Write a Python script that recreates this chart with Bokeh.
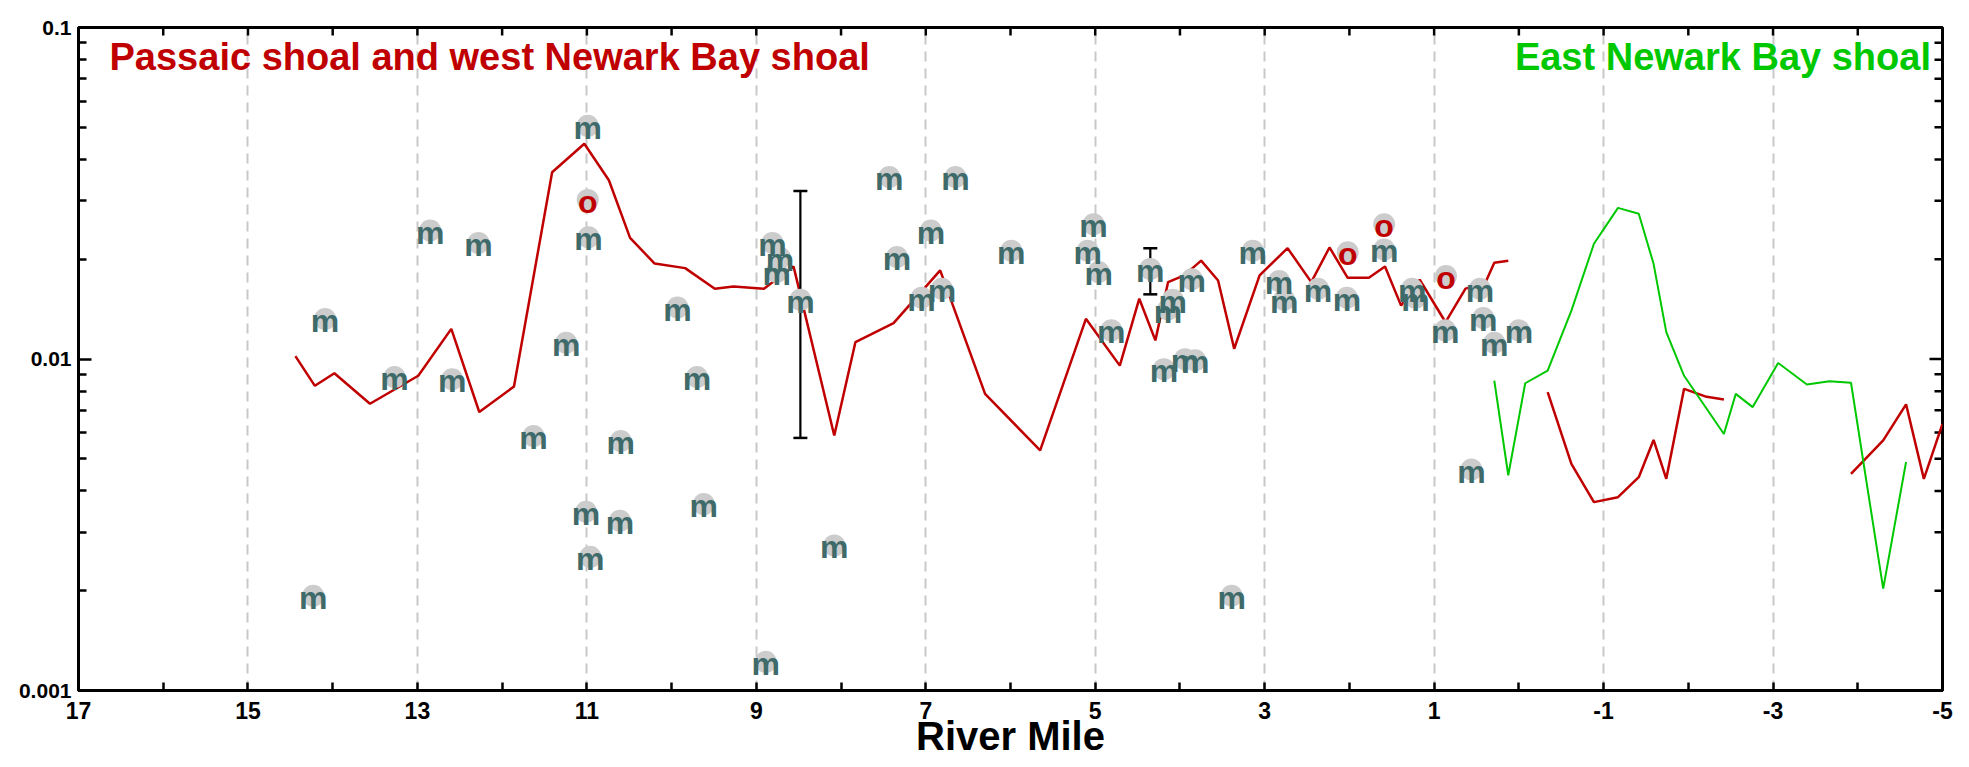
import math
from bokeh.plotting import figure
from bokeh.models import Range1d, FixedTicker, Label, CustomJSTickFormatter
from bokeh.core.properties import value
from bokeh.embed import file_html
from bokeh.resources import INLINE

# ---------------- data ----------------
x_start, x_end = 17, -5
y_bottom, y_top = 0.001, 0.1

# Passaic shoal / west Newark Bay shoal model line (main reach)
red_main_x = [14.44, 14.21, 13.98, 13.56, 12.99, 12.60, 12.27, 11.86, 11.41, 11.03,
              10.74, 10.49, 10.20, 9.84, 9.49, 9.27, 8.91, 8.84, 8.56, 8.08,
              7.83, 7.38, 6.83, 6.30, 5.65, 5.11, 4.71, 4.48, 4.29, 4.14,
              3.95, 3.75, 3.55, 3.36, 3.06, 2.73, 2.45, 2.235, 2.02, 1.77,
              1.58, 1.39, 1.17, 0.865, 0.63, 0.40, 0.29, 0.125]
red_main_y = [0.0102, 0.0083, 0.00906, 0.00733, 0.0089, 0.01233, 0.00692, 0.00826, 0.0366, 0.0446,
              0.0346, 0.0232, 0.0194, 0.0188, 0.0163, 0.01655, 0.0163, 0.0168, 0.0190, 0.00588,
              0.01125, 0.01283, 0.0185, 0.00785, 0.0053, 0.01322, 0.00955, 0.0152, 0.01138, 0.01706,
              0.01787, 0.0198, 0.01725, 0.01074, 0.01787, 0.0216, 0.01706, 0.0217, 0.01758, 0.01758,
              0.0190, 0.01449, 0.01734, 0.01291, 0.0163, 0.0169, 0.0195, 0.0198]

# west shoal line segments east of RM 0
red_seg2_x = [-0.34, -0.62, -0.886, -1.17, -1.415, -1.59, -1.74, -1.95, -2.20, -2.42]
red_seg2_y = [0.00794, 0.00483, 0.0037, 0.00383, 0.0044, 0.0057, 0.00435, 0.00813, 0.00771, 0.00755]
red_seg3_x = [-3.92, -4.30, -4.57, -4.78, -5.0]
red_seg3_y = [0.0045, 0.00568, 0.0073, 0.00435, 0.00637]

# East Newark Bay shoal model line
green_x = [0.29, 0.125, -0.075, -0.34, -0.62, -0.886, -1.17, -1.415, -1.59, -1.74,
           -1.95, -2.42, -2.56, -2.76, -3.06, -3.40, -3.665, -3.92, -4.30, -4.57]
green_y = [0.0086, 0.00446, 0.00845, 0.00923, 0.0140, 0.02226, 0.02857, 0.02742, 0.01937, 0.01205,
           0.0089, 0.00594, 0.00785, 0.00716, 0.00973, 0.00838, 0.00857, 0.00848, 0.00203, 0.00489]

# "m" measurements
m_x = [10.99, 10.98, 12.85, 12.28, 14.09, 9.93, 11.245, 13.27, 12.59, 9.70,
       11.63, 10.60, 11.01, 10.61, 10.96, 14.23, 9.62, 8.08, 8.89, 3.39,
       7.43, 6.65, 6.94, 7.34, 5.99, 5.02, 5.09, 4.96, 4.35, 3.86,
       4.085, 4.14, 4.81, 4.19, 3.94, 3.82, 3.14, 2.83, 2.77, 2.37,
       2.03, 8.81, 8.72, 8.76, 8.48, 7.05, 6.81, 1.59, 1.26, 1.22,
       0.87, 0.46, 0.42, 0.29, 0.0, 0.56]
m_y = [0.0505, 0.0233, 0.0244, 0.0224, 0.0132, 0.0143, 0.0112, 0.00883, 0.00869, 0.00883,
       0.00586, 0.00566, 0.00346, 0.00325, 0.00253, 0.00193, 0.00365, 0.00274, 0.00122, 0.00193,
       0.0354, 0.0354, 0.0244, 0.0203, 0.0212, 0.0255, 0.0212, 0.0183, 0.0187, 0.0174,
       0.0151, 0.0141, 0.0122, 0.00932, 0.00999, 0.00992, 0.0212, 0.0172, 0.0151, 0.0163,
       0.0153, 0.0224, 0.0202, 0.0183, 0.0151, 0.0153, 0.0163, 0.0214, 0.0163, 0.0153,
       0.0122, 0.0163, 0.0133, 0.0112, 0.0122, 0.00464]

# "o" measurements
o_x = [10.99, 2.02, 1.59, 0.86]
o_y = [0.0302, 0.0210, 0.0255, 0.0178]

# error bars
err_x = [8.48, 4.35]
err_lo = [0.00578, 0.01567]
err_hi = [0.0321, 0.0216]

x_labeled_ticks = list(range(-5, 18, 2))
x_unlabeled_ticks = list(range(-4, 17, 2))
grid_x = [15, 13, 11, 9, 7, 5, 3, 1, -1, -3]
y_major = [0.001, 0.01, 0.1]
y_minor = [k * 10.0 ** e for e in (-3, -2) for k in range(2, 10)]

title_west = "Passaic shoal and west Newark Bay shoal"
title_east = "East Newark Bay shoal"
x_title = "River Mile"

# ---------------- figure ----------------
FONT = "Liberation Sans"
RED = "#c00000"
GREEN = "#00c800"
TEAL = "#3e6a6a"

p = figure(width=1969, height=767, output_backend="svg", toolbar_location=None,
           x_range=Range1d(x_start, x_end), y_range=Range1d(y_bottom, y_top), y_axis_type="log",
           min_border_left=78, min_border_right=27, min_border_top=27, min_border_bottom=77)
p.outline_line_color = "black"
p.outline_line_width = 3
p.background_fill_color = "white"
p.border_fill_color = "white"

# bottom axis
bx = p.xaxis[0]
bx.ticker = FixedTicker(ticks=x_labeled_ticks, minor_ticks=x_unlabeled_ticks)
bx.formatter = CustomJSTickFormatter(code="return tick.toString();")
bx.axis_line_width = 3
bx.major_tick_line_width = 2.5
bx.minor_tick_line_width = 2.5
bx.major_tick_in = 8
bx.major_tick_out = 0
bx.minor_tick_in = 8
bx.minor_tick_out = 0
bx.major_label_text_font = FONT
bx.major_label_text_font_style = "bold"
bx.major_label_text_font_size = "23px"
bx.major_label_text_color = "black"
bx.major_label_standoff = 11
bx.axis_label = x_title
bx.axis_label_text_font = FONT
bx.axis_label_text_font_style = "bold"
bx.axis_label_text_font_size = "40px"
bx.axis_label_text_color = "black"
bx.axis_label_standoff = -8

# left axis
ly = p.yaxis[0]
ly.ticker = FixedTicker(ticks=y_major, minor_ticks=y_minor)
ly.formatter = CustomJSTickFormatter(code="return tick.toString();")
ly.axis_line_width = 3
ly.major_tick_line_width = 2.5
ly.minor_tick_line_width = 2.5
ly.major_tick_in = 13
ly.major_tick_out = 0
ly.minor_tick_in = 8
ly.minor_tick_out = 0
ly.major_label_text_font = FONT
ly.major_label_text_font_style = "bold"
ly.major_label_text_font_size = "21px"
ly.major_label_text_color = "black"
ly.major_label_standoff = 7

# grid
p.ygrid.grid_line_color = None
p.xgrid.ticker = FixedTicker(ticks=grid_x)
p.xgrid.grid_line_color = "#c8c8c8"
p.xgrid.grid_line_width = 2
p.xgrid.grid_line_dash = "10 7"

# inward ticks on the top and right frame edges (half of each dash is clipped by the frame)
all_x_ticks = x_labeled_ticks + x_unlabeled_ticks
p.scatter(all_x_ticks, [y_top] * len(all_x_ticks), marker="dash", angle=math.pi / 2,
          size=16, line_color="black", line_width=2.5)
p.scatter([x_end] * len(y_minor), y_minor, marker="dash", size=16,
          line_color="black", line_width=2.5)
p.scatter([x_end] * len(y_major), y_major, marker="dash", size=26,
          line_color="black", line_width=2.5)

# lines
p.line(red_main_x, red_main_y, line_color=RED, line_width=2.5)
p.line(red_seg2_x, red_seg2_y, line_color=RED, line_width=2.5)
p.line(red_seg3_x, red_seg3_y, line_color=RED, line_width=2.5)
p.line(green_x, green_y, line_color=GREEN, line_width=2)

# error bars
p.segment(x0=err_x, y0=err_lo, x1=err_x, y1=err_hi, line_color="black", line_width=2.2)
p.scatter(err_x + err_x, err_lo + err_hi, marker="dash", size=14, line_color="black", line_width=2.5)

# markers: grey disc with letter on top
p.scatter(m_x + o_x, m_y + o_y, marker="circle", size=22, fill_color="#cccccc", line_color=None)
p.text(m_x, m_y, text=["m"] * len(m_x), text_font=value(FONT), text_font_style="bold",
       text_font_size="32px", text_color=TEAL, text_align="center", text_baseline="middle",
       y_offset=2)
p.text(o_x, o_y, text=["o"] * len(o_x), text_font=value(FONT), text_font_style="bold",
       text_font_size="32px", text_color=RED, text_align="center", text_baseline="middle",
       y_offset=2)

# titles
p.add_layout(Label(x=16.634, y=0.0812, text=title_west, text_font=FONT, text_font_style="bold",
                   text_font_size="38px", text_color=RED, text_align="left",
                   text_baseline="middle"))
p.add_layout(Label(x=-4.864, y=0.0812, text=title_east, text_font=FONT, text_font_style="bold",
                   text_font_size="38px", text_color=GREEN, text_align="right",
                   text_baseline="middle"))

open("out.html", "w").write(file_html(p, INLINE))
